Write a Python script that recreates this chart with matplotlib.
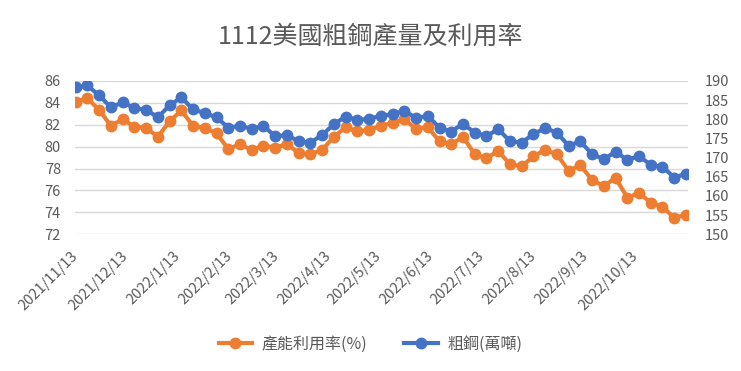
import numpy as np
import pandas as pd
import matplotlib
matplotlib.use('Agg')
import matplotlib.pyplot as plt

plt.rcParams['font.family'] = ['Noto Sans CJK TC', 'DejaVu Sans']

# weekly data, weeks ending Saturday
dates = pd.date_range('2021-11-13', periods=53, freq='7D')

utilization = [84.1, 84.4, 83.35, 81.9, 82.5, 81.8, 81.7, 80.9, 82.3, 83.3,
               81.9, 81.7, 81.2, 79.8, 80.2, 79.7, 80.1, 79.9, 80.25, 79.4,
               79.3, 79.7, 80.9, 81.75, 81.4, 81.5, 81.9, 82.15, 82.5, 81.6,
               81.75, 80.5, 80.2, 80.9, 79.3, 78.95, 79.6, 78.4, 78.2, 79.1,
               79.7, 79.3, 77.8, 78.3, 76.95, 76.4, 77.15, 75.35, 75.75, 74.9,
               74.5, 73.5, 73.8]

steel = [188.3, 188.8, 186.2, 183.1, 184.4, 182.9, 182.5, 180.5, 183.6, 185.7,
         182.6, 181.6, 180.5, 177.8, 178.3, 177.5, 178.3, 175.5, 175.9, 174.2,
         173.9, 175.9, 178.7, 180.7, 179.8, 180.1, 180.9, 181.3, 182.2, 180.3,
         180.9, 177.8, 176.8, 178.8, 176.5, 175.6, 177.4, 174.3, 173.9, 176.1,
         177.7, 176.5, 173.1, 174.2, 170.9, 169.6, 171.5, 169.4, 170.4, 168.1,
         167.6, 164.8, 165.8]

tick_labels = ['2021/11/13', '2021/12/13', '2022/1/13', '2022/2/13', '2022/3/13',
               '2022/4/13', '2022/5/13', '2022/6/13', '2022/7/13', '2022/8/13',
               '2022/9/13', '2022/10/13']
left_ticks = np.arange(72, 87, 2)
right_ticks = np.arange(150, 191, 5)

orange = '#ED7D31'
blue = '#4472C4'
gray = '#595959'

fig = plt.figure(figsize=(7.41, 3.71), dpi=100)
ax = fig.add_axes([0.101, 0.3685, 0.827, 0.4135])
ax2 = ax.twinx()

l1, = ax.plot(dates, utilization, color=orange, lw=3, marker='o', ms=7.5,
              label='產能利用率(%)', zorder=3)
l2, = ax2.plot(dates, steel, color=blue, lw=3, marker='o', ms=7.5,
               label='粗鋼(萬噸)', zorder=3)

ax.set_ylim(72, 86)
ax2.set_ylim(150, 190)
ax.set_yticks(left_ticks)
ax2.set_yticks(right_ticks)
ax.set_xlim(dates[0] - pd.Timedelta(days=0.5), dates[-1] + pd.Timedelta(days=1))
ax.set_xticks(pd.to_datetime(tick_labels, format='%Y/%m/%d'))
ax.set_xticklabels(tick_labels, rotation=45, ha='right', va='center',
                   rotation_mode='anchor')

ax.grid(axis='y', color='#D9D9D9', lw=1)
ax.set_axisbelow(True)
for a in (ax, ax2):
    for s in a.spines.values():
        s.set_visible(False)
    a.tick_params(length=0, labelsize=10.5, labelcolor=gray)
ax.tick_params(axis='y', pad=10)
ax2.tick_params(axis='y', pad=12)
ax.tick_params(axis='x', pad=14)

fig.suptitle('1112美國粗鋼產量及利用率', x=0.5, y=0.935, fontsize=18, color=gray)

fig.legend(handles=[l1, l2], loc='center', bbox_to_anchor=(0.5, 0.073), ncol=2,
           frameon=False, fontsize=11.5, labelcolor=gray, handlelength=2.1,
           columnspacing=2.3, handletextpad=0.6)

fig.savefig('out.png', dpi=100)
